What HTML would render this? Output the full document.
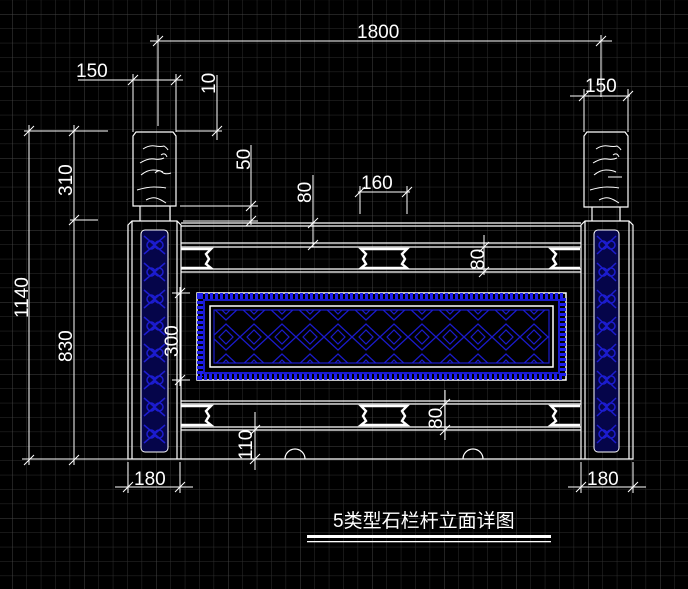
<!DOCTYPE html>
<html><head><meta charset="utf-8"><style>
html,body{margin:0;padding:0;background:#000;}
svg{display:block}
text{font-family:"Liberation Sans","Noto Sans CJK SC",sans-serif;fill:#fff;}
</style></head><body>
<svg width="688" height="589" viewBox="0 0 688 589" xmlns="http://www.w3.org/2000/svg">
<defs>
<pattern id="g" x="12" y="14" width="14.4" height="14.4" patternUnits="userSpaceOnUse">
<path d="M0 0H14.4M0 0V14.4" stroke="#2e2e2e" stroke-width="1" fill="none"/>
</pattern>
<pattern id="G" x="12" y="14" width="72" height="72" patternUnits="userSpaceOnUse">
<path d="M0 0H72M0 0V72" stroke="#444" stroke-width="1" fill="none"/>
</pattern>
<pattern id="dia" x="212" y="322" width="28" height="30" patternUnits="userSpaceOnUse">
<path d="M0 15L14 2L28 15L14 28Z M7 15L14 8L21 15L14 22Z" stroke="#1a1acc" fill="none" stroke-width="1.2"/>
</pattern>
<pattern id="pp" x="141" y="232" width="27" height="27" patternUnits="userSpaceOnUse">
<rect width="27" height="27" fill="#05054a"/>
<path d="M3 4L24 22M24 4L3 22M6 13a4 4 0 1 0 8 0a4 4 0 1 0-8 0M14 13a4 4 0 1 0 8 0a4 4 0 1 0-8 0" stroke="#1c1cd0" fill="none" stroke-width="1.5"/>
</pattern>
<pattern id="pp2" x="594" y="232" width="25" height="27" patternUnits="userSpaceOnUse">
<rect width="25" height="27" fill="#05054a"/>
<path d="M3 4L22 22M22 4L3 22M5 13a4 4 0 1 0 8 0a4 4 0 1 0-8 0M13 13a4 4 0 1 0 8 0a4 4 0 1 0-8 0" stroke="#1c1cd0" fill="none" stroke-width="1.5"/>
</pattern>
</defs>
<rect width="688" height="589" fill="#000"/>
<rect width="688" height="589" fill="url(#g)"/>
<rect width="688" height="589" fill="url(#G)"/>

<g stroke="#fff" fill="none" stroke-width="1.2">
<path d="M133 136L136 132H173L176 136V206H133Z"/>
<path d="M140 206V221M170 206V221"/>
<path d="M128 225L132 221H177L181 225V459H128Z"/>
<path d="M132 221V459M177 221V459"/>
<path d="M584 136L587 132H625L628 136V207H584Z"/>
<path d="M592 207V221M620 207V221"/>
<path d="M581 225L585 221H629L633 225V459H581Z"/>
<path d="M585 221V459M629 221V459"/>
<path d="M181 223H581M181 226H581M181 243H581M181 247H581M181 269H581M181 272H581"/>
<path d="M181 401H581M181 404H581M181 427H581M181 430H581M181 459H581"/>
<path d="M285 459A10 10 0 0 1 305 459M463 459A10 10 0 0 1 483 459"/>
</g>
<g stroke="#fff" fill="none" stroke-width="1">
<path d="M143 149q6-4 12-3t9 0q3 2 4 4M140 163q8-5 14-4t10-1M141 175q6-5 12-5t10 2M137 190q10-3 17-3t12 1M146 200q6-3 10-2t10 5M155 173q4-4 7-1t9 1M161 155q4-3 6 2"/>
<path d="M596 149q6-4 12-3t9 0q3 2 4 4M593 163q8-5 14-4t10-1M594 175q6-5 12-5t10 2M590 190q10-3 17-3t12 1M599 200q6-3 10-2t10 5M608 177l14 0M613 155q4-3 6 2"/>
</g>
<rect x="141" y="230" width="27" height="222" rx="4" fill="url(#pp)" stroke="#fff" stroke-width="1"/>
<rect x="594" y="230" width="25" height="222" rx="4" fill="url(#pp2)" stroke="#fff" stroke-width="1"/>
<g stroke="#fff" fill="none" stroke-width="2.4">
<path d="M181 249H211l-5 5 3 5-3 5 5 4H181"/>
<path d="M361 249H407l-5 5 3 5-3 5 5 4H361l5-4-3-5 3-5Z"/>
<path d="M580 249H551l5 5-3 5 3 5-5 4H580"/>
<path d="M181 406H211l-5 5 3 5-3 5 5 4H181"/>
<path d="M361 406H407l-5 5 3 5-3 5 5 4H361l5-4-3-5 3-5Z"/>
<path d="M580 406H551l5 5-3 5 3 5-5 4H580"/>
</g>
<rect x="197" y="293" width="369" height="87" fill="#000" stroke="#fff" stroke-width="1.5"/>
<rect x="200" y="296" width="363" height="81" fill="none" stroke="#1e1eee" stroke-width="6" stroke-dasharray="3 2"/>
<rect x="204" y="300" width="355" height="73" fill="none" stroke="#1a1acc" stroke-width="2"/>
<rect x="210" y="306" width="343" height="61" fill="#000" stroke="#fff" stroke-width="1.5"/>
<rect x="214" y="310" width="335" height="53" fill="url(#dia)" stroke="#1a1acc" stroke-width="1.2"/>

<g stroke="#fff" fill="none" stroke-width="1">
<path d="M150 41H612M158 35V126M601 35V97M153 46l10-10M596 46l10-10"/>
<path d="M78 80H183M133 74V132M176 74V132M128 85l10-10M171 85l10-10"/>
<path d="M570 96H630M584 89V132M628 89V132M579 101l10-10M623 101l10-10"/>
<path d="M217 75V140M176 131H222M212 136l10-10"/>
<path d="M251 145V225M180 206H258M183 221H258M246 211l10-10M246 226l10-10"/>
<path d="M24 131H108M70 220H98M29 125V465M74 125V465M24 136l10-10M69 136l10-10M69 225l10-10M24 465l10-10M69 465l10-10M22 459H128"/>
<path d="M313 175V247M308 228l10-10M308 250l10-10"/>
<path d="M358 192H410M360 186V214M407 186V214M355 197l10-10M402 197l10-10"/>
<path d="M484 235V275M479 252l10-10M479 277l10-10"/>
<path d="M180 287V386M175 298l10-10M175 385l10-10M172 293H190M172 380H190"/>
<path d="M445 390V440M440 409l10-10M440 435l10-10"/>
<path d="M255 412V470M250 435l10-10M250 464l10-10"/>
<path d="M115 487H193M128 462V493M180 462V493M123 492l10-10M175 492l10-10"/>
<path d="M568 487H646M581 462V493M633 462V493M576 492l10-10M628 492l10-10"/>
</g>

<g font-size="19" font-weight="300">
<text x="357" y="38">1800</text>
<text x="76" y="77">150</text>
<text x="585" y="92">150</text>
<text x="361" y="189">160</text>
<text x="134" y="485">180</text>
<text x="587" y="485">180</text>
<text transform="translate(215 94) rotate(-90)">10</text>
<text transform="translate(250 170) rotate(-90)">50</text>
<text transform="translate(72 196) rotate(-90)">310</text>
<text transform="translate(28 318) rotate(-90)">1140</text>
<text transform="translate(72 362) rotate(-90)">830</text>
<text transform="translate(311 203) rotate(-90)">80</text>
<text transform="translate(484 270) rotate(-90)">80</text>
<text transform="translate(178 357) rotate(-90)">300</text>
<text transform="translate(442 429) rotate(-90)">80</text>
<text transform="translate(252 460) rotate(-90)">110</text>
</g>
<text x="333" y="527" font-size="19">5类型石栏杆立面详图</text>
<rect x="307" y="535" width="244" height="3" fill="#fff"/>
<rect x="307" y="541" width="244" height="1.3" fill="#fff"/>
</svg>
</body></html>
